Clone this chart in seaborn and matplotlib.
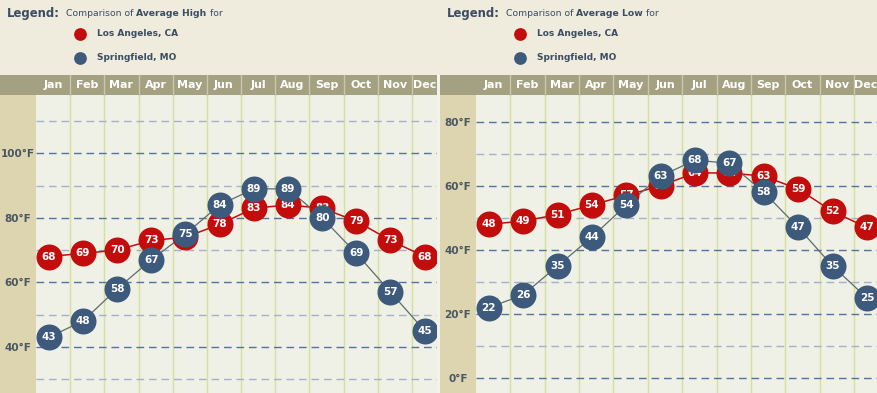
import matplotlib
matplotlib.use("Agg")
import matplotlib.pyplot as plt
from matplotlib.patches import Rectangle
from matplotlib.lines import Line2D
import seaborn as sns
import numpy as np

months = ["Jan", "Feb", "Mar", "Apr", "May", "Jun", "Jul", "Aug", "Sep", "Oct", "Nov", "Dec"]
la_high = [68, 69, 70, 73, 74, 78, 83, 84, 83, 79, 73, 68]
sf_high = [43, 48, 58, 67, 75, 84, 89, 89, 80, 69, 57, 45]
la_low = [48, 49, 51, 54, 57, 60, 64, 64, 63, 59, 52, 47]
sf_low = [22, 26, 35, 44, 54, 63, 68, 67, 58, 47, 35, 25]
city_names = ["Los Angeles, CA", "Springfield, MO"]
titles = ["Average High", "Average Low"]
left_major = [40, 60, 80, 100]
left_minor = [30, 50, 70, 90, 110]
right_major = [0, 20, 40, 60, 80]
right_minor = [10, 30, 50, 70]

W, H = 878, 393
DPI = 100
RED = "#c30d0d"
BLUE = "#3d5a7c"
TEXT = "#3b4c63"
BG = "#efecdd"
PLOT_BG = "#eff0e6"
TAN = "#ddd4b0"
HEAD = "#a4a182"
VGRID = "#d5e09c"

fig = plt.figure(figsize=(W / DPI, H / DPI), dpi=DPI, facecolor=BG)


def fx(px):
    return px / W


def fy(py):
    return 1 - py / H


def panel(x0, x1, ylim, series_red, series_blue, major, minor, title, xlim):
    # tan y band
    fig.patches.append(Rectangle((fx(x0), 0), fx(36), fy(95), transform=fig.transFigure,
                                 facecolor=TAN, edgecolor="none", zorder=-2))
    # header band
    fig.patches.append(Rectangle((fx(x0), fy(95)), fx(x1 - x0 - 2), 20 / H, transform=fig.transFigure,
                                 facecolor=HEAD, edgecolor="none", zorder=-2))
    ax = fig.add_axes([fx(x0 + 36), 0, fx(x1 - x0 - 36), fy(95)])
    ax.set_facecolor(PLOT_BG)
    ax.set_xlim(*xlim)
    ax.set_ylim(*ylim)
    x = np.arange(len(months))
    # vertical column lines
    bounds = x - 0.373
    for b in bounds[1:]:
        ax.axvline(b, color=VGRID, lw=1, zorder=1)
        ax.plot([b, b], [1.0, 1.0 + 20 / 298], transform=ax.get_xaxis_transform(),
                color="#c9c7ad", lw=1, clip_on=False, zorder=1)
    # horizontal grid
    for v in major:
        ax.axhline(v, color="#5670a0", lw=1, dashes=(5.5, 3.5), zorder=1)
    for v in minor:
        ax.axhline(v, color="#a7b0c8", lw=1, dashes=(5.5, 3.5), zorder=1)
    # series
    sns.lineplot(x=x, y=series_red, color=RED, lw=1.1, ax=ax, zorder=2)
    sns.lineplot(x=x, y=series_blue, color="#5e6b6e", lw=0.9, ax=ax, zorder=2)
    sns.scatterplot(x=x, y=series_red, color=RED, s=350, linewidth=0, ax=ax, zorder=3)
    for xi, v in zip(x, series_red):
        ax.text(xi, v, str(v), color="white", ha="center", va="center", fontsize=7.5,
                fontweight="bold", zorder=4)
    sns.scatterplot(x=x, y=series_blue, color=BLUE, s=350, linewidth=0, ax=ax, zorder=5)
    for xi, v in zip(x, series_blue):
        ax.text(xi, v, str(v), color="white", ha="center", va="center", fontsize=7.5,
                fontweight="bold", zorder=6)
    # ticks
    ax.set_yticks(major)
    ax.set_yticklabels([f"{v}°F" for v in major])
    ax.tick_params(axis="y", length=0, pad=18 * 72 / DPI, labelsize=7.5, labelcolor="#4a5663")
    for lab in ax.get_yticklabels():
        lab.set_horizontalalignment("center")
        lab.set_fontweight("bold")
    centers = list(x[:-1] + 0.127) + [(bounds[-1] + xlim[1]) / 2 - 0.03]
    ax.set_xticks(centers)
    ax.set_xticklabels(months)
    ax.tick_params(axis="x", length=0, top=False, bottom=False, labeltop=True, labelbottom=False,
                   pad=10 * 72 / DPI, labelsize=8, labelcolor="white")
    for lab in ax.get_xticklabels():
        lab.set_verticalalignment("center")
        lab.set_fontweight("bold")
    for s in ax.spines.values():
        s.set_visible(False)
    ax.set_xlabel("")
    ax.set_ylabel("")

    # legend
    fig.text(fx(x0 + 7), fy(14), "Legend:", fontsize=8.4, fontweight="bold", color=TEXT,
             va="center", ha="left")
    r = fig.canvas.get_renderer()
    xpos = x0 + 66
    for txt, wgt in [("Comparison of ", "normal"), (title, "bold"), (" for", "normal")]:
        t = fig.text(fx(xpos), fy(14), txt, fontsize=6.7, fontweight=wgt, color=TEXT,
                     va="center", ha="left")
        bb = t.get_window_extent(renderer=r)
        xpos += bb.width
    for i, (name, col) in enumerate(zip(city_names, [RED, BLUE])):
        yy = 34 + 24 * i
        fig.add_artist(Line2D([fx(x0 + 80)], [fy(yy)], transform=fig.transFigure, marker="o",
                              markersize=9.2, markerfacecolor=col, markeredgewidth=0, linestyle="none"))
        fig.text(fx(x0 + 97), fy(yy), name, fontsize=6.5, fontweight="bold", color=TEXT,
                 va="center", ha="left")
    return ax


panel(0, 439, (25.7, 118.1), la_high, sf_high, left_major, left_minor, titles[0], (-0.3735, 11.42))
panel(440, 880, (-4.6, 88.3), la_low, sf_low, right_major, right_minor, titles[1], (-0.371, 11.38))
# separator strip between panels
fig.add_artist(Rectangle((fx(437), 0), fx(3), fy(75), transform=fig.transFigure,
                         facecolor="#f4f3ea", edgecolor="none", zorder=10))

fig.savefig("out.png", dpi=DPI, facecolor=BG)
